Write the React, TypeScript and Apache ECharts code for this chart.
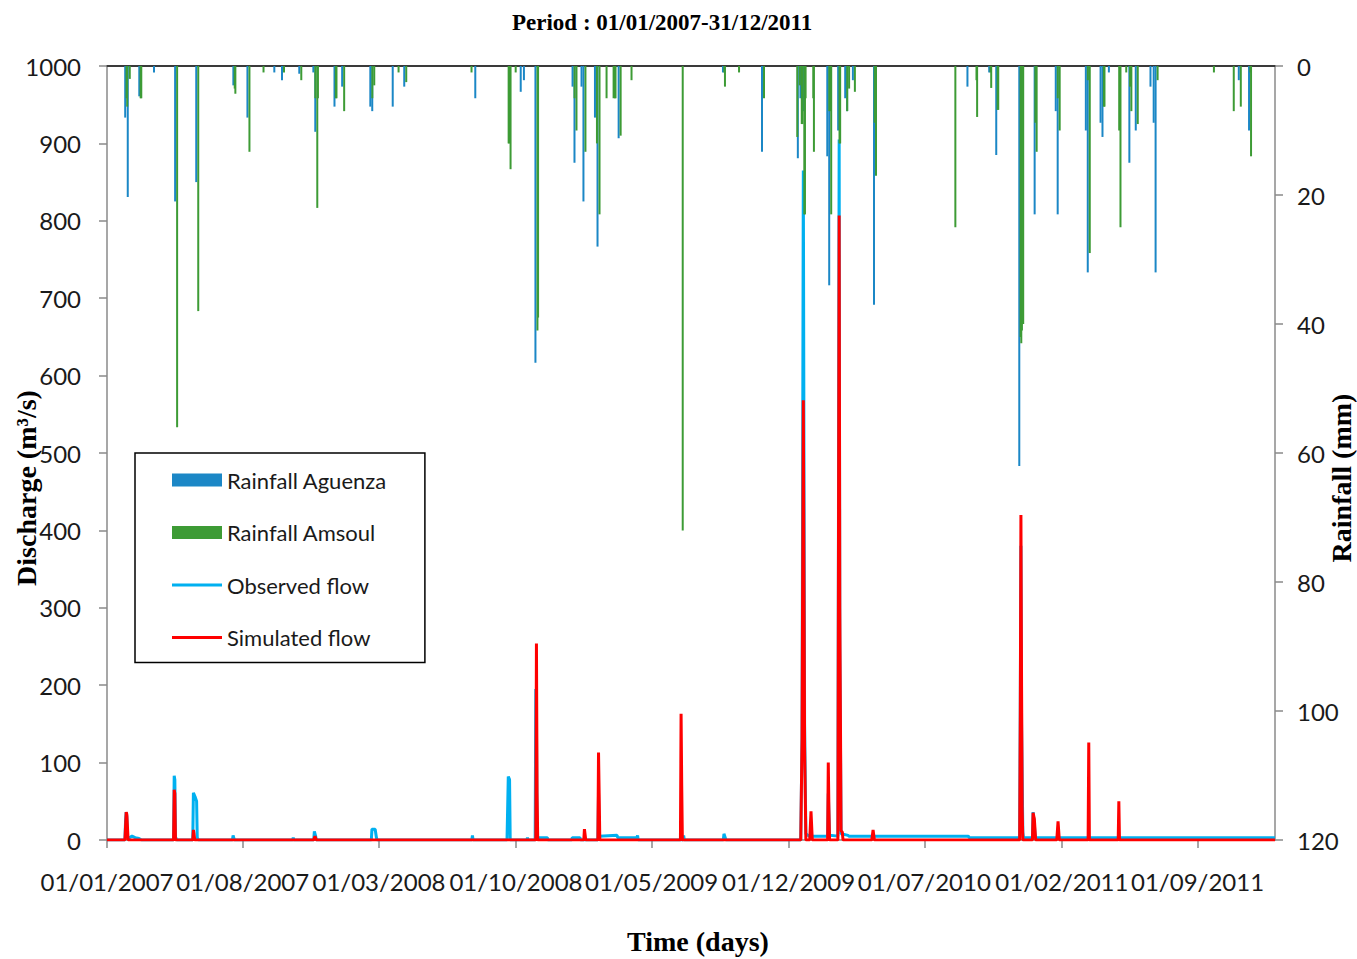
import React, { useEffect, useRef } from "react";
import * as echarts from "echarts";

const TITLE = "Period : 01/01/2007-31/12/2011";
const X_NAME = "Time (days)";
const Y_LEFT_NAME = "Discharge (m³/s)";
const Y_RIGHT_NAME = "Rainfall (mm)";
const FIRST_DAY = "01/01/2007";
const LAST_DAY = "31/12/2011";

const xTickLabels = [
  "01/01/2007", "01/08/2007", "01/03/2008", "01/10/2008", "01/05/2009",
  "01/12/2009", "01/07/2010", "01/02/2011", "01/09/2011",
];

// Rainfall (mm) — right axis, inverted
const rainAguenza: [string, number][] = [
  ["31/01/2007", 8], ["04/02/2007", 20.3], ["22/02/2007", 4.7], ["17/03/2007", 1],
  ["19/04/2007", 21], ["22/05/2007", 18], ["19/07/2007", 3], ["10/08/2007", 8],
  ["21/09/2007", 1], ["03/10/2007", 2.2], ["30/10/2007", 1.2], ["21/11/2007", 1],
  ["24/11/2007", 10.2], ["24/12/2007", 6.3], ["05/01/2008", 3.2], ["18/02/2008", 6.3],
  ["21/02/2008", 7], ["24/03/2008", 6.3], ["11/04/2008", 3.2], ["31/07/2008", 5],
  ["10/10/2008", 4], ["15/10/2008", 2.2], ["02/11/2008", 46], ["30/12/2008", 3.2],
  ["02/01/2009", 15], ["13/01/2009", 3.2], ["16/01/2009", 21], ["03/02/2009", 8],
  ["07/02/2009", 28], ["12/03/2009", 11.2], ["22/08/2009", 1], ["22/10/2009", 13.3],
  ["17/12/2009", 14.3], ["21/12/2009", 5], ["25/12/2009", 7], ["01/02/2010", 14],
  ["04/02/2010", 34], ["18/02/2010", 10], ["01/03/2010", 5], ["04/03/2010", 7],
  ["13/03/2010", 2.2], ["15/04/2010", 37], ["08/09/2010", 3.2], ["12/10/2010", 1],
  ["23/10/2010", 13.8], ["28/11/2010", 62], ["01/12/2010", 39], ["22/12/2010", 23],
  ["24/01/2011", 7], ["27/01/2011", 23], ["12/03/2011", 10], ["15/03/2011", 32],
  ["04/04/2011", 8.8], ["07/04/2011", 11], ["17/04/2011", 1], ["19/05/2011", 15],
  ["29/05/2011", 10], ["21/06/2011", 3.2], ["26/06/2011", 8.8], ["29/06/2011", 32],
  ["06/11/2011", 2.2], ["22/11/2011", 10],
];

const rainAmsoul: [string, number][] = [
  ["30/01/2007", 5], ["31/01/2007", 6.3], ["04/02/2007", 2], ["21/02/2007", 5],
  ["22/02/2007", 5], ["19/04/2007", 56], ["22/05/2007", 38], ["18/07/2007", 3.5],
  ["19/07/2007", 4.3], ["10/08/2007", 13.3], ["01/09/2007", 1], ["03/10/2007", 1],
  ["30/10/2007", 2.2], ["21/11/2007", 5], ["24/11/2007", 22], ["25/11/2007", 5],
  ["23/12/2007", 5], ["24/12/2007", 5], ["05/01/2008", 7], ["18/02/2008", 5],
  ["21/02/2008", 3], ["30/03/2008", 1], ["11/04/2008", 2.5], ["22/07/2008", 1],
  ["18/09/2008", 12], ["19/09/2008", 12], ["21/09/2008", 16], ["29/09/2008", 1],
  ["02/11/2008", 41], ["03/11/2008", 39], ["30/12/2008", 5], ["02/01/2009", 10],
  ["16/01/2009", 13.3], ["03/02/2009", 12], ["07/02/2009", 23], ["18/02/2009", 5],
  ["01/03/2009", 5], ["03/03/2009", 5], ["04/03/2009", 5], ["12/03/2009", 10.8],
  ["29/03/2009", 2.2], ["17/06/2009", 72], ["21/08/2009", 1], ["22/08/2009", 3.2],
  ["13/09/2009", 1], ["22/10/2009", 5], ["13/12/2009", 11], ["17/12/2009", 3],
  ["20/12/2009", 9], ["21/12/2009", 9], ["24/12/2009", 23], ["25/12/2009", 23],
  ["26/12/2009", 5], ["07/01/2010", 5], ["08/01/2010", 13.3], ["01/02/2010", 7],
  ["03/02/2010", 7], ["04/02/2010", 23], ["17/02/2010", 12], ["18/02/2010", 12],
  ["01/03/2010", 7], ["04/03/2010", 3.5], ["13/03/2010", 4], ["13/04/2010", 8.8],
  ["15/04/2010", 17], ["17/08/2010", 25], ["19/09/2010", 2.2], ["20/09/2010", 7.9],
  ["11/10/2010", 1], ["12/10/2010", 3.4], ["22/10/2010", 6.8], ["23/10/2010", 6.8],
  ["27/11/2010", 42], ["28/11/2010", 43], ["29/11/2010", 41], ["01/12/2010", 40],
  ["20/12/2010", 8.8], ["22/12/2010", 13.3], ["24/01/2011", 5], ["27/01/2011", 10],
  ["12/03/2011", 2.2], ["15/03/2011", 29], ["06/04/2011", 6.3], ["07/04/2011", 6.3],
  ["30/04/2011", 10], ["02/05/2011", 25], ["11/05/2011", 1], ["17/05/2011", 3.2],
  ["19/05/2011", 7], ["29/05/2011", 9], ["29/06/2011", 2.2], ["25/09/2011", 1],
  ["26/10/2011", 7], ["06/11/2011", 6.3], ["21/11/2011", 1], ["22/11/2011", 14],
];

// Discharge (m3/s) — left axis
const observedFlow: [string, number][] = [
  ["01/01/2007", 0], ["29/01/2007", 0], ["30/01/2007", 25], ["31/01/2007", 36], ["01/02/2007", 30],
  ["02/02/2007", 4], ["05/02/2007", 3], ["09/02/2007", 5], ["14/02/2007", 3], ["20/02/2007", 2],
  ["24/02/2007", 0], ["15/04/2007", 0], ["16/04/2007", 83], ["17/04/2007", 78], ["18/04/2007", 4],
  ["20/04/2007", 0], ["15/05/2007", 0], ["16/05/2007", 61], ["19/05/2007", 55], ["21/05/2007", 50],
  ["22/05/2007", 3], ["24/05/2007", 0], ["16/07/2007", 0], ["17/07/2007", 6], ["19/07/2007", 0],
  ["18/10/2007", 0], ["19/10/2007", 3], ["20/10/2007", 0], ["20/11/2007", 0], ["21/11/2007", 11],
  ["23/11/2007", 5], ["24/11/2007", 0], ["18/02/2008", 0], ["19/02/2008", 14], ["24/02/2008", 14],
  ["26/02/2008", 3], ["27/02/2008", 0], ["24/07/2008", 0], ["25/07/2008", 6], ["26/07/2008", 0],
  ["17/09/2008", 0], ["18/09/2008", 40], ["19/09/2008", 82], ["21/09/2008", 78], ["22/09/2008", 0],
  ["18/10/2008", 0], ["19/10/2008", 3], ["20/10/2008", 0], ["31/10/2008", 0], ["01/11/2008", 195],
  ["02/11/2008", 150], ["03/11/2008", 8], ["04/11/2008", 3], ["19/11/2008", 3], ["20/11/2008", 0],
  ["27/12/2008", 0], ["28/12/2008", 3], ["09/01/2009", 3], ["10/01/2009", 0], ["06/02/2009", 0],
  ["07/02/2009", 60], ["08/02/2009", 5], ["08/03/2009", 6], ["09/03/2009", 3], ["08/04/2009", 3],
  ["09/04/2009", 6], ["10/04/2009", 0], ["19/06/2009", 0], ["20/06/2009", 6], ["21/06/2009", 0],
  ["21/08/2009", 0], ["22/08/2009", 8], ["24/08/2009", 3], ["25/08/2009", 0], ["20/12/2009", 0],
  ["22/12/2009", 132], ["24/12/2009", 865], ["26/12/2009", 150], ["28/12/2009", 8], ["02/01/2010", 5],
  ["31/01/2010", 5], ["01/02/2010", 60], ["03/02/2010", 6], ["16/02/2010", 5], ["18/02/2010", 905],
  ["19/02/2010", 250], ["21/02/2010", 8], ["04/03/2010", 6], ["05/03/2010", 5], ["08/09/2010", 5],
  ["09/09/2010", 3], ["27/11/2010", 3], ["28/11/2010", 165], ["29/11/2010", 380], ["30/11/2010", 150],
  ["02/12/2010", 10], ["03/12/2010", 3], ["17/12/2010", 3], ["18/12/2010", 36], ["20/12/2010", 20],
  ["21/12/2010", 8], ["22/12/2010", 3], ["31/12/2011", 3],
];

const simulatedFlow: [string, number][] = [
  ["01/01/2007", 0], ["29/01/2007", 0], ["31/01/2007", 36], ["01/02/2007", 33], ["03/02/2007", 0],
  ["15/04/2007", 0], ["16/04/2007", 65], ["17/04/2007", 60], ["18/04/2007", 0], ["15/05/2007", 0],
  ["16/05/2007", 13], ["17/05/2007", 8], ["18/05/2007", 0], ["20/11/2007", 0], ["22/11/2007", 5],
  ["24/11/2007", 0], ["01/11/2008", 0], ["02/11/2008", 254], ["03/11/2008", 60], ["04/11/2008", 0],
  ["15/01/2009", 0], ["16/01/2009", 14], ["18/01/2009", 0], ["06/02/2009", 0], ["07/02/2009", 113],
  ["08/02/2009", 60], ["09/02/2009", 0], ["15/06/2009", 0], ["16/06/2009", 163], ["17/06/2009", 70],
  ["18/06/2009", 0], ["20/12/2009", 0], ["22/12/2009", 130], ["24/12/2009", 568], ["26/12/2009", 120],
  ["28/12/2009", 0], ["03/01/2010", 0], ["05/01/2010", 37], ["07/01/2010", 0], ["31/01/2010", 0],
  ["01/02/2010", 100], ["02/02/2010", 40], ["03/02/2010", 0], ["16/02/2010", 0], ["18/02/2010", 807],
  ["19/02/2010", 300], ["21/02/2010", 12], ["23/02/2010", 10], ["24/02/2010", 0], ["10/04/2010", 0],
  ["12/04/2010", 13], ["14/04/2010", 0], ["27/11/2010", 0], ["28/11/2010", 160], ["29/11/2010", 420],
  ["30/11/2010", 200], ["01/12/2010", 40], ["02/12/2010", 0], ["17/12/2010", 0], ["18/12/2010", 35],
  ["20/12/2010", 27], ["22/12/2010", 0], ["24/01/2011", 0], ["26/01/2011", 24], ["28/01/2011", 0],
  ["14/03/2011", 0], ["15/03/2011", 126], ["16/03/2011", 0], ["30/04/2011", 0], ["01/05/2011", 50],
  ["02/05/2011", 0], ["31/12/2011", 0],
];

const COLORS = {
  aguenza: "#1B87C6",
  amsoul: "#3D9B35",
  observed: "#00B0F0",
  simulated: "#FF0000",
};

const DAY = 86400000;
function parseDay(s: string): number {
  const [dd, mm, yy] = s.split("/").map(Number);
  return Date.UTC(yy, mm - 1, dd);
}
function fmt(t: number): string {
  const d = new Date(t);
  const dd = String(d.getUTCDate()).padStart(2, "0");
  const mm = String(d.getUTCMonth() + 1).padStart(2, "0");
  return `${dd}/${mm}/${d.getUTCFullYear()}`;
}

const LINE_ICON = "path://M0,0L100,0L100,6L0,6Z";

export default function App() {
  const ref = useRef<HTMLDivElement>(null);

  useEffect(() => {
    if (!ref.current) return;
    const chart = echarts.init(ref.current, undefined, { renderer: "svg" });

    const t0 = parseDay(FIRST_DAY);
    const t1 = parseDay(LAST_DAY);
    const categories: string[] = [];
    for (let t = t0; t <= t1; t += DAY) categories.push(fmt(t));
    const idx = (s: string) => Math.round((parseDay(s) - t0) / DAY);
    const toPairs = (arr: [string, number][]) => arr.map(([d, v]) => [idx(d), v]);
    const tickSet = new Set(xTickLabels);
    const isTick = (_i: number, v: string) => tickSet.has(v);

    const axisGray = "#8a8a8a";
    const labelFont = { fontFamily: "Lato", fontSize: 24, color: "#1a1a1a" };
    const nameFont = { fontFamily: "Liberation Serif", fontWeight: "bold" as const, fontSize: 28, fill: "#000" };

    chart.setOption({
      animation: false,
      backgroundColor: "#fff",
      title: {
        text: TITLE,
        left: 507,
        top: 6,
        textStyle: { fontFamily: "Liberation Serif", fontWeight: "bold", fontSize: 23, color: "#000" },
      },
      grid: { left: 107, right: 82, top: 66, bottom: 119, containLabel: false },
      legend: {
        left: 135,
        top: 453,
        orient: "vertical",
        itemWidth: 50,
        itemHeight: 13,
        itemGap: 30.5,
        padding: [16, 38, 14, 37],
        backgroundColor: "#fff",
        borderColor: "#000",
        borderWidth: 1.5,
        textStyle: { fontFamily: "Lato", fontSize: 22, color: "#1a1a1a" },
        data: [
          { name: "Rainfall Aguenza", icon: "rect" },
          { name: "Rainfall Amsoul", icon: "rect" },
          { name: "Observed flow", icon: LINE_ICON },
          { name: "Simulated flow", icon: LINE_ICON },
        ],
      },
      xAxis: [
        {
          type: "category",
          data: categories,
          boundaryGap: false,
          axisLine: { lineStyle: { color: axisGray, width: 1.5 } },
          axisTick: { interval: isTick, length: 8, lineStyle: { color: axisGray, width: 1.5 } },
          axisLabel: { interval: isTick, margin: 29, ...labelFont },
          splitLine: { show: false },
        },
        {
          type: "category",
          position: "top",
          data: categories,
          boundaryGap: false,
          axisLine: { lineStyle: { color: "#3a3a3a", width: 2 } },
          axisTick: { show: false },
          axisLabel: { show: false },
          splitLine: { show: false },
        },
      ],
      yAxis: [
        {
          type: "value",
          min: 0,
          max: 1000,
          interval: 100,
          axisLine: { show: true, lineStyle: { color: axisGray, width: 1.5 } },
          axisTick: { show: true, length: 8, lineStyle: { color: axisGray, width: 1.5 } },
          axisLabel: { margin: 26, formatter: (v: number) => String(v), ...labelFont },
          splitLine: { show: false },
        },
        {
          type: "value",
          position: "right",
          inverse: true,
          min: 0,
          max: 120,
          interval: 20,
          axisLine: { show: true, lineStyle: { color: axisGray, width: 1.5 } },
          axisTick: { show: true, length: 8, lineStyle: { color: axisGray, width: 1.5 } },
          axisLabel: { margin: 22, formatter: (v: number) => String(v), ...labelFont },
          splitLine: { show: false },
        },
      ],
      graphic: [
        {
          type: "text",
          x: 26,
          y: 488,
          rotation: Math.PI / 2,
          style: { text: Y_LEFT_NAME, align: "center", verticalAlign: "middle", ...nameFont },
        },
        {
          type: "text",
          x: 1341,
          y: 478,
          rotation: Math.PI / 2,
          style: { text: Y_RIGHT_NAME, align: "center", verticalAlign: "middle", ...nameFont },
        },
        {
          type: "text",
          x: 698,
          y: 941,
          style: { text: X_NAME, align: "center", verticalAlign: "middle", ...nameFont },
        },
      ],
      series: [
        {
          name: "Observed flow",
          type: "line",
          xAxisIndex: 0,
          yAxisIndex: 0,
          data: toPairs(observedFlow),
          symbol: "none",
          showSymbol: false,
          lineStyle: { color: COLORS.observed, width: 3 },
          itemStyle: { color: COLORS.observed },
          z: 2,
        },
        {
          name: "Simulated flow",
          type: "line",
          xAxisIndex: 0,
          yAxisIndex: 0,
          data: toPairs(simulatedFlow),
          symbol: "none",
          showSymbol: false,
          lineStyle: { color: COLORS.simulated, width: 3 },
          itemStyle: { color: COLORS.simulated },
          z: 2,
        },
        {
          name: "Rainfall Aguenza",
          type: "bar",
          xAxisIndex: 0,
          yAxisIndex: 1,
          barWidth: 2,
          barGap: "0%",
          data: toPairs(rainAguenza),
          itemStyle: { color: COLORS.aguenza },
          z: 3,
        },
        {
          name: "Rainfall Amsoul",
          type: "bar",
          xAxisIndex: 0,
          yAxisIndex: 1,
          barWidth: 2,
          barGap: "0%",
          data: toPairs(rainAmsoul),
          itemStyle: { color: COLORS.amsoul },
          z: 3,
        },
      ],
    });

    return () => chart.dispose();
  }, []);

  return (
    <div
      ref={ref}
      style={{ position: "fixed", left: 0, top: 0, width: 1357, height: 959, background: "#fff" }}
    />
  );
}
